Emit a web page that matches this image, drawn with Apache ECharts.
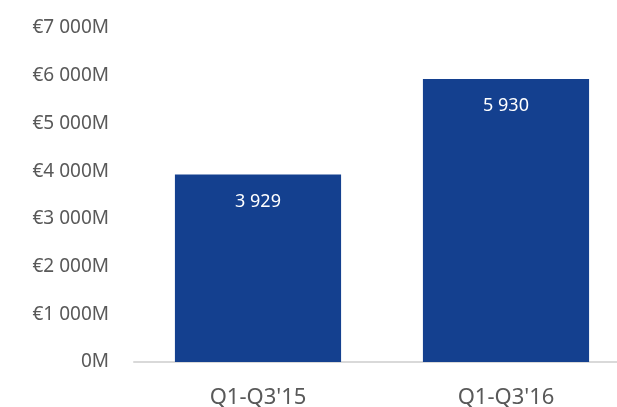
<!DOCTYPE html>
<html lang="en">
<head>
    <meta charset="UTF-8">
    <title>Q1-Q3 chart</title>
    <style>
        html, body { margin: 0; padding: 0; background: #fff; }
        #main { width: 617px; height: 407px; }
    </style>
</head>
<body>
    <div id="main"></div>
    <script src="https://cdn.jsdelivr.net/npm/echarts@6/dist/echarts.min.js"></script>
    <script>
        var categories = ["Q1-Q3'15", "Q1-Q3'16"];
        var values = [3929, 5930];
        var yTicks = [0, 1000, 2000, 3000, 4000, 5000, 6000, 7000];

        function spaced(n) {
            return String(n).replace(/\B(?=(\d{3})+(?!\d))/g, " ");
        }

        var myChart = echarts.init(document.getElementById("main"));
        var option = {
            animation: false,
            grid: { left: 134, width: 496, top: 28, bottom: 45, outerBoundsMode: "none" },
            xAxis: {
                type: "category",
                data: categories,
                axisLine: { lineStyle: { color: "#d9d9d9", width: 2 } },
                axisTick: { show: false },
                axisLabel: {
                    color: "#595959",
                    fontSize: 22,
                    fontFamily: "Noto Sans",
                    margin: 25
                }
            },
            yAxis: {
                type: "value",
                min: yTicks[0],
                max: yTicks[yTicks.length - 1],
                interval: 1000,
                splitLine: { show: false },
                axisLine: { show: false },
                axisTick: { show: false },
                axisLabel: {
                    color: "#595959",
                    fontSize: 19,
                    fontFamily: "Noto Sans",
                    margin: 25,
                    formatter: function (v) {
                        return v === 0 ? "0M" : "€" + spaced(v) + "M";
                    }
                }
            },
            series: [{
                type: "bar",
                data: values,
                barWidth: "67%",
                itemStyle: { color: "#14408f" },
                label: {
                    show: true,
                    position: "insideTop",
                    distance: 18,
                    color: "#fff",
                    fontSize: 18,
                    fontFamily: "Noto Sans",
                    formatter: function (p) { return spaced(p.value); }
                }
            }]
        };
        myChart.setOption(option);
    </script>
</body>
</html>
